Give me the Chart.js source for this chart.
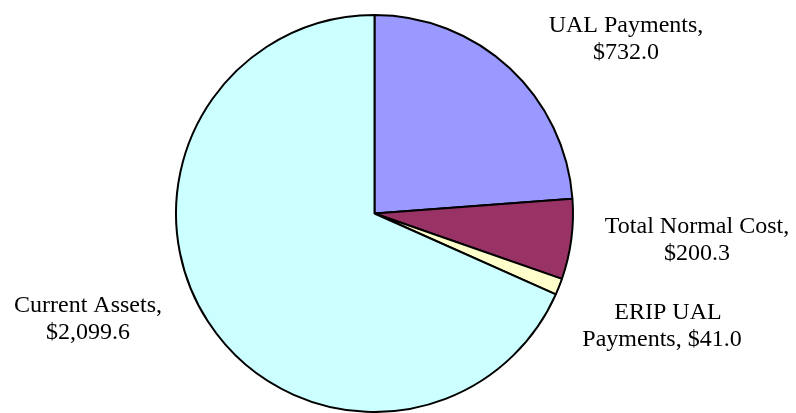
<!DOCTYPE html>
<html>
<head>
<meta charset="utf-8">
<script src="https://cdn.jsdelivr.net/npm/chart.js@4.4.1/dist/chart.umd.min.js"></script>
<style>
  html, body { margin: 0; padding: 0; background: #fff; }
  #wrap { width: 796px; height: 413px; position: relative; }
</style>
</head>
<body>
<div id="wrap"><canvas id="chart"></canvas></div>
<script>
// Data
const categories = ["UAL Payments", "Total Normal Cost", "ERIP UAL Payments", "Current Assets"];
const values = [732.0, 200.3, 41.0, 2099.6];
const colors = ["#9999FF", "#993366", "#FFFFCC", "#CCFFFF"];

// label lines, built from categories + values
const fmt = (v) => "$" + v.toLocaleString("en-US", { minimumFractionDigits: 1, maximumFractionDigits: 1 });
const labelLines = [
  ["UAL Payments,", fmt(values[0])],
  ["Total Normal Cost,", fmt(values[1])],
  ["ERIP UAL", "Payments, " + fmt(values[2])],
  ["Current Assets,", fmt(values[3])],
];
// where each line sits: [center x, baseline y]
const labelPos = [
  [[626, 32], [626, 59]],
  [[697, 233], [697, 260]],
  [[668, 319], [662, 346]],
  [[88, 312], [88, 339]],
];

const sliceLabels = {
  id: "sliceLabels",
  afterDraw(chart) {
    const ctx = chart.ctx;
    ctx.save();
    ctx.fillStyle = "#000";
    ctx.font = "24px 'Liberation Serif', 'Times New Roman', serif";
    ctx.textAlign = "center";
    ctx.textBaseline = "alphabetic";
    labelLines.forEach((lines, i) => {
      lines.forEach((t, j) => ctx.fillText(t, labelPos[i][j][0], labelPos[i][j][1]));
    });
    ctx.restore();
  },
};

const ctx = document.getElementById("chart").getContext("2d");
new Chart(ctx, {
  type: "pie",
  data: {
    labels: categories,
    datasets: [{
      data: values,
      backgroundColor: colors,
      borderColor: "#000",
      borderWidth: 2,
    }],
  },
  options: {
    responsive: true,
    maintainAspectRatio: false,
    animation: false,
    layout: { padding: { left: 174, right: 221, top: 14, bottom: -3 } },
    plugins: {
      legend: { display: false },
      tooltip: { enabled: false },
    },
  },
  plugins: [sliceLabels],
});
</script>
</body>
</html>
